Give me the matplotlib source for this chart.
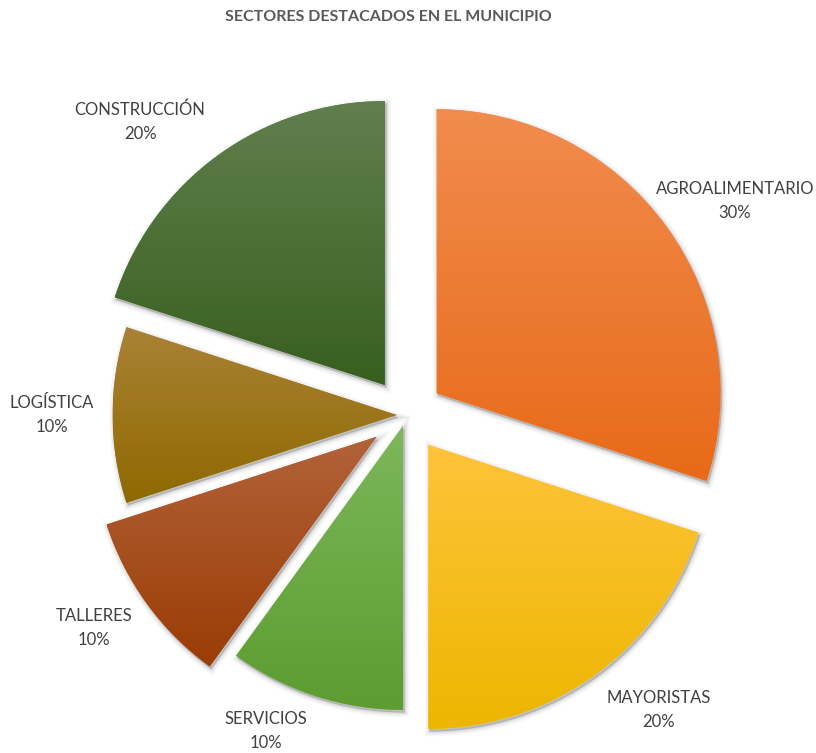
import numpy as np
import matplotlib
matplotlib.use("Agg")
import matplotlib.pyplot as plt
from matplotlib.patches import Wedge
from matplotlib.colors import to_rgb

# Sector shares (clockwise from 12 o'clock)
sectors = ["AGROALIMENTARIO", "MAYORISTAS", "SERVICIOS", "TALLERES", "LOGÍSTICA", "CONSTRUCCIÓN"]
shares = [30, 20, 10, 10, 10, 20]

# Vertical gradient per slice: (top colour, bottom colour)
top_colors = ["#F18C4E", "#FEC43A", "#7DB75A", "#B2623A", "#AA8236", "#607F4E"]
bottom_colors = ["#E86A18", "#EDB600", "#5C9C30", "#9A3C04", "#8E6900", "#385F1E"]

# Layout (pixels)
W, H = 816, 753
cx, cy = 406.6, H - 415
R = 284
explode = [37, 37, 11.5, 37, 10, 37]
label_pos = [(56.9, 392), (139.5, 388), (204, 346), (235.7, 378), (270, 355), (317.7, 396)]

plt.rcParams["font.family"] = ["Lato", "DejaVu Sans"]

fig = plt.figure(figsize=(W / 100, H / 100), dpi=100)
ax = fig.add_axes([0, 0, 1, 1])

wedges, _ = ax.pie(shares, explode=explode, startangle=90, counterclock=False,
                   radius=R, center=(cx, cy), colors=top_colors,
                   wedgeprops=dict(linewidth=0))

for i, w in enumerate(wedges):
    w.set_zorder(3)
    # soft drop shadow
    for lw, a in [(7, 0.03), (4.5, 0.04), (2.5, 0.05), (1, 0.06)]:
        sh = Wedge((w.center[0] + 1.5, w.center[1] - 2.5), w.r, w.theta1, w.theta2,
                   facecolor=(0, 0, 0, a), edgecolor=(0, 0, 0, a), linewidth=lw, zorder=2)
        ax.add_patch(sh)
    verts = w.get_path().vertices
    xmin, xmax = verts[:, 0].min(), verts[:, 0].max()
    ymin, ymax = verts[:, 1].min(), verts[:, 1].max()
    t = np.linspace(0, 1, 256)[:, None]
    c0 = np.array(to_rgb(bottom_colors[i]))
    c1 = np.array(to_rgb(top_colors[i]))
    grad = (c0 * (1 - t) + c1 * t)[:, None, :]
    im = ax.imshow(grad, extent=[xmin, xmax, ymin, ymax], origin="lower",
                   interpolation="bilinear", zorder=4, aspect="auto")
    im.set_clip_path(w)

for name, val, (ang, dist) in zip(sectors, shares, label_pos):
    a = np.deg2rad(ang)
    tx = cx + dist * np.sin(a)
    ty = cy + dist * np.cos(a)
    ax.text(tx, ty, f"{name}\n{val}%", ha="center", va="center",
            fontsize=12, color="#404040", linespacing=1.6, zorder=5)

ax.text(388, H - 17, "SECTORES DESTACADOS EN EL MUNICIPIO", ha="center", va="center",
        fontsize=11.5, fontweight="bold", color="#595959")

ax.set_xlim(0, W)
ax.set_ylim(0, H)
ax.set_aspect("auto")
ax.axis("off")

fig.savefig("out.png", dpi=100, facecolor="white")
